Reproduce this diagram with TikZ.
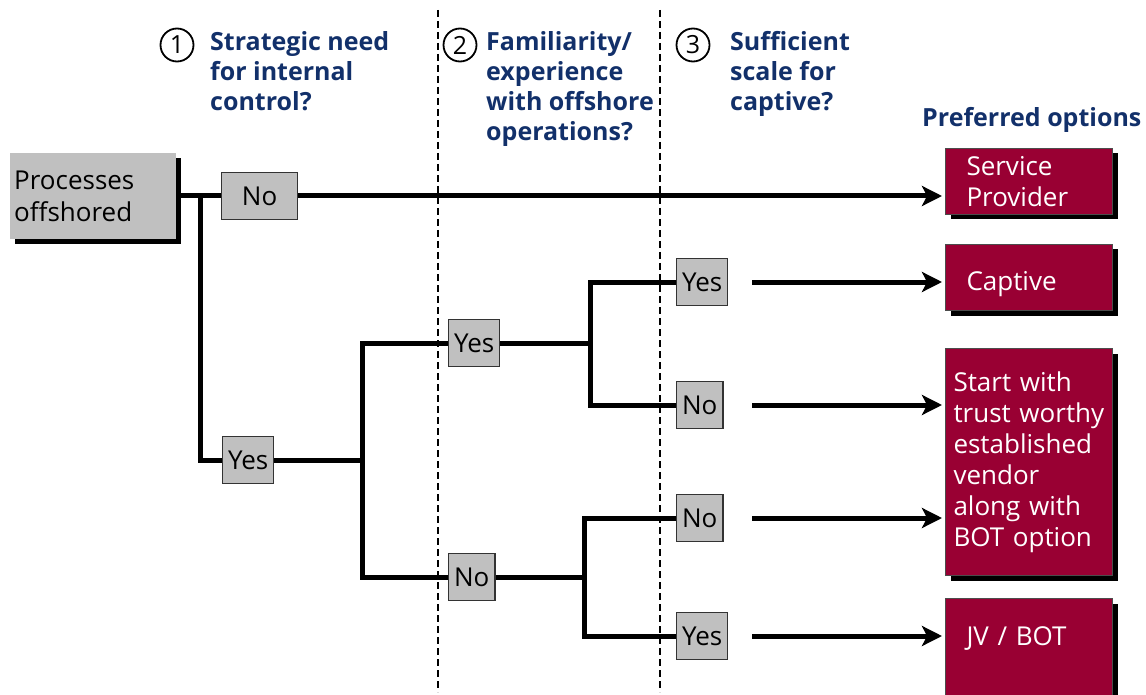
\documentclass[tikz,border=0pt]{standalone}
\usepackage{fontspec}
\setmainfont{Open Sans}
\usetikzlibrary{arrows.meta,shadows}
\definecolor{navy}{RGB}{18,48,106}
\definecolor{wine}{RGB}{153,0,51}
\definecolor{boxgray}{RGB}{192,192,192}
\tikzset{
  head/.style={anchor=north west,inner sep=0pt,align=left,text=navy,
    font=\fontsize{25}{30}\selectfont\bfseries},
  num/.style={draw,circle,line width=1.8pt,minimum size=33pt,inner sep=0pt,
    font=\fontsize{25}{28}\selectfont},
  ans/.style={draw=black!80,line width=1.2pt,fill=boxgray,anchor=west,
    minimum height=47pt,inner xsep=5.5pt,font=\fontsize{26}{30}\selectfont},
  option/.style={draw=black!70,line width=1pt,fill=wine,text=white,
    anchor=north west,minimum width=167pt,align=left,
    font=\fontsize{26}{31}\selectfont,
    drop shadow={shadow xshift=5pt,shadow yshift=-5pt,fill=black,opacity=1}},
  branch/.style={line width=5pt},
  arr/.style={line width=5pt,-{Stealth[length=20pt,width=20pt,inset=5pt]},shorten >=3pt},
  sep/.style={line width=1.3pt,dash pattern=on 7pt off 4pt}
}
\begin{document}
\begin{tikzpicture}[x=1pt,y=-1pt]
  \useasboundingbox (0,0) rectangle (1146,695);
  % column separators
  \draw[sep] (438,10) -- (438,692);
  \draw[sep] (660,10) -- (660,692);

  % questions
  \node[num] (n1) at (177,45) {1};
  \node[head] (q1) at (210,31) {Strategic need\\for internal\\control?};
  \node[num] (n2) at (460,45) {2};
  \node[head] (q2) at (486,31) {Familiarity/\\experience\\with offshore\\operations?};
  \node[num] (n3) at (693,45) {3};
  \node[head] (q3) at (730,31) {Sufficient\\scale for\\captive?};
  \node[head,anchor=west] (pref) at (922,120) {Preferred options};

  % start
  \node[fill=boxgray,anchor=north west,minimum width=166pt,minimum height=86pt,
    text width=158pt,inner xsep=4pt,align=left,font=\fontsize{26}{32}\selectfont,
    drop shadow={shadow xshift=5pt,shadow yshift=-5pt,fill=black,opacity=1}]
    (proc) at (10,153) {Processes\\offshored};

  % answers
  \node[ans,minimum width=76pt] (no1) at (221,196) {No};
  \node[ans] (yes1) at (222,460) {Yes};
  \node[ans] (yes2) at (448,343) {Yes};
  \node[ans] (no2) at (448,577) {No};
  \node[ans] (yes3a) at (676,282) {Yes};
  \node[ans] (no3a) at (676,405) {No};
  \node[ans] (no3b) at (676,518) {No};
  \node[ans] (yes3b) at (676,636) {Yes};

  % options
  \node[option,text width=125pt,inner xsep=21pt,minimum height=66pt] (sp) at (945,148) {Service\\Provider};
  \node[option,text width=125pt,inner xsep=21pt,inner ysep=0pt,text height=46pt,text depth=20pt] (cap) at (945,244) {Captive};
  \node[option,text width=151pt,minimum height=227pt,inner xsep=8pt] (bot) at (945,348)
    {Start with\\\mbox{trust worthy}\\established\\vendor\\along with\\BOT option};
  \node[option,text width=125pt,inner xsep=21pt,inner ysep=0pt,text height=47pt,text depth=70pt] (jv) at (945,598) {JV / BOT};

  % tree
  \coordinate (fork1) at (200,196);
  \coordinate (fork2) at (362,460);
  \coordinate (fork3) at (590,343);
  \coordinate (fork4) at (584,577);
  \coordinate (tail) at (752,0);
  \draw[branch] (proc.east |- fork1) -- (no1.west);
  \draw[branch] (fork1) |- (yes1.west);
  \draw[branch] (yes1.east) -- (fork2);
  \draw[branch] (yes2.west) -| (fork2) |- (no2.west);
  \draw[branch] (yes2.east) -- (fork3);
  \draw[branch] (yes3a.west) -| (fork3) |- (no3a.west);
  \draw[branch] (no2.east) -- (fork4);
  \draw[branch] (no3b.west) -| (fork4) |- (yes3b.west);

  % arrows to the options
  \draw[arr] (no1.east) -- (no1 -| sp.west);
  \draw[arr] (yes3a -| tail) -- (yes3a -| cap.west);
  \draw[arr] (no3a -| tail) -- (no3a -| bot.west);
  \draw[arr] (no3b -| tail) -- (no3b -| bot.west);
  \draw[arr] (yes3b -| tail) -- (yes3b -| jv.west);
\end{tikzpicture}
\end{document}
